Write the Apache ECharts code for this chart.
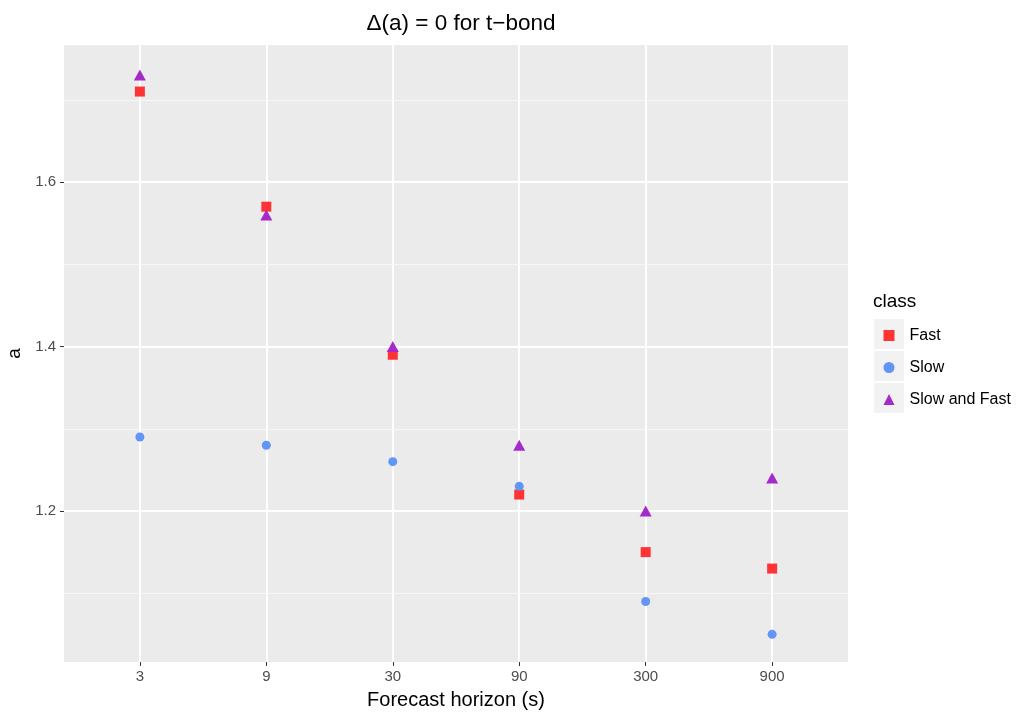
<!DOCTYPE html>
<html><head><meta charset="utf-8">
<script src="https://cdn.jsdelivr.net/npm/echarts@6/dist/echarts.min.js"></script>
<style>html,body{margin:0;padding:0;background:#fff}#c{width:1021px;height:718px}</style>
</head><body><div id="c"></div>
<script>
const categories = ['3','9','30','90','300','900'];
const fastValues = [1.71, 1.57, 1.39, 1.22, 1.15, 1.13];
const slowValues = [1.29, 1.28, 1.26, 1.23, 1.09, 1.05];
const slowFastValues = [1.73, 1.56, 1.40, 1.28, 1.20, 1.24];
const yTicks = [1.2, 1.4, 1.6];
const yMinorGrid = [1.1, 1.3, 1.5, 1.7];

const toPts = arr => arr.map((v, i) => [i, v]);
const font = '"Liberation Sans", Arial, sans-serif';
const chart = echarts.init(document.getElementById('c'));
const L = 64, R = 848, T = 45, B = 662;
chart.setOption({
  animation: false,
  backgroundColor: '#fff',
  title: {text: 'Δ(a) = 0 for t−bond', left: (L + R) / 2, top: 7, textAlign: 'center',
    textStyle: {fontFamily: font, fontSize: 22.5, fontWeight: 'normal', color: '#000'}},
  grid: {left: L, right: 1021 - R, top: T, bottom: 718 - B, show: true, backgroundColor: '#ebebeb', borderWidth: 0,
    containLabel: false, outerBoundsMode: 'none'},
  xAxis: {type: 'value', min: -0.6, max: 5.6,
    name: 'Forecast horizon (s)', nameLocation: 'middle', nameGap: 28,
    nameTextStyle: {fontFamily: font, fontSize: 20, color: '#000'},
    axisLine: {show: false, onZero: false},
    axisTick: {show: true, length: 4, lineStyle: {color: '#333', width: 1}, customValues: [0,1,2,3,4,5]},
    axisLabel: {customValues: [0,1,2,3,4,5], formatter: v => categories[Math.round(v)], fontFamily: font, fontSize: 15, color: '#4d4d4d', margin: 7},
    splitLine: {show: true, lineStyle: {color: '#fff', width: 2}}
  },
  yAxis: {type: 'value', min: 1.0164, max: 1.7666,
    name: 'a', nameLocation: 'middle', nameGap: 35, nameRotate: 90,
    nameTextStyle: {fontFamily: font, fontSize: 19, color: '#000'},
    axisLine: {show: false, onZero: false},
    axisTick: {show: true, length: 4, lineStyle: {color: '#333', width: 1}, customValues: yTicks},
    axisLabel: {customValues: yTicks, formatter: v => v.toFixed(1), fontFamily: font, fontSize: 15, color: '#4d4d4d', margin: 8},
    splitLine: {show: true, lineStyle: {color: '#fff', width: 2}}
  },
  legend: {orient: 'vertical', left: 878.5, top: 322.5, itemGap: 16, itemWidth: 11, itemHeight: 11,
    textStyle: {fontFamily: font, fontSize: 16, color: '#000', padding: [0, 0, 0, 10]},
    data: [{name: 'Fast', icon: 'rect'}, {name: 'Slow', icon: 'circle'}, {name: 'Slow and Fast', icon: 'triangle'}]},
  graphic: [
    {type: 'text', left: 873, top: 292, style: {text: 'class', fontFamily: font, fontSize: 19, fill: '#000'}},
    {type: 'rect', shape: {x: 874, y: 319, width: 30, height: 30}, style: {fill: '#f2f2f2'}, z: -1},
    {type: 'rect', shape: {x: 874, y: 351, width: 30, height: 30}, style: {fill: '#f2f2f2'}, z: -1},
    {type: 'rect', shape: {x: 874, y: 383, width: 30, height: 30}, style: {fill: '#f2f2f2'}, z: -1}
  ],
  series: [
    {type: 'line', data: [], silent: true, symbol: 'none',
      markLine: {silent: true, symbol: 'none', label: {show: false}, lineStyle: {color: '#f7f7f7', width: 1, type: 'solid'},
        data: yMinorGrid.map(v => ({yAxis: v}))}},
    {name: 'Fast', type: 'scatter', symbol: 'rect', symbolSize: 10, data: toPts(fastValues), itemStyle: {color: '#ff3333', opacity: 1}, z: 3},
    {name: 'Slow', type: 'scatter', symbol: 'circle', symbolSize: 9, data: toPts(slowValues), itemStyle: {color: '#6195f7', opacity: 1}, z: 3},
    {name: 'Slow and Fast', type: 'scatter', symbol: 'triangle', symbolSize: [12, 11], data: toPts(slowFastValues), itemStyle: {color: '#a52ac9', opacity: 1}, z: 4}
  ]
});
</script></body></html>
